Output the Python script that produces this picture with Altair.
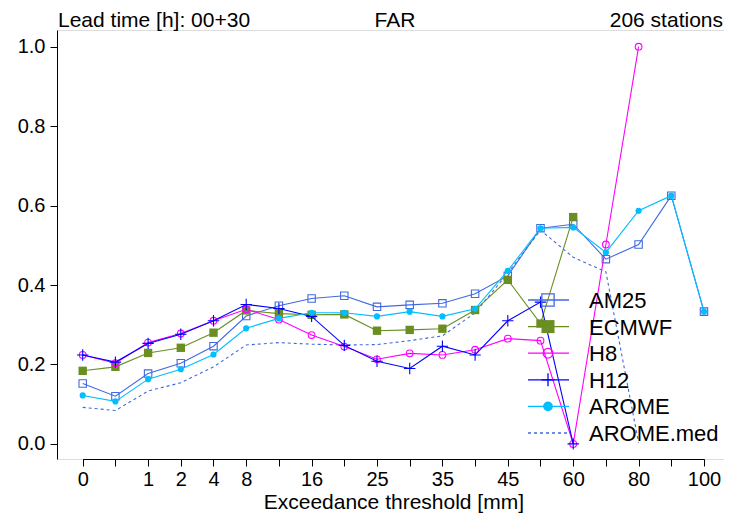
import altair as alt
import pandas as pd

thresholds = ["0", "0.5", "1", "2", "4", "8", "12", "16", "20", "25", "30", "35",
              "40", "45", "50", "60", "70", "80", "90", "100"]
shown_labels = ["0", "1", "2", "4", "8", "16", "25", "35", "45", "60", "80", "100"]

series_names = ["AM25", "ECMWF", "H8", "H12", "AROME", "AROME.med"]

am25 = [0.152, 0.120, 0.177, 0.203, 0.246, 0.322, 0.348, 0.366, 0.373, 0.345, 0.350, 0.354,
        0.378, 0.423, 0.543, 0.553, 0.465, 0.502, 0.625, 0.333]
ecmwf = [0.184, 0.194, 0.229, 0.242, 0.280, 0.336, 0.328, 0.325, 0.326, 0.285, 0.287, 0.290,
         0.337, 0.413, 0.303, 0.571, None, None, None, None]
h8 = [0.224, 0.203, 0.255, 0.278, 0.310, 0.339, 0.313, 0.274, 0.245, 0.213, 0.228, 0.224,
      0.237, 0.265, 0.260, 0.0, 0.502, 1.0, None, None]
h12 = [0.224, 0.206, 0.253, 0.276, 0.310, 0.351, 0.341, 0.321, 0.248, 0.208, 0.190, 0.246,
       0.224, 0.310, 0.357, 0.0, None, None, None, None]
arome = [0.122, 0.107, 0.163, 0.188, 0.225, 0.291, 0.316, 0.330, 0.330, 0.321, 0.333, 0.321,
         0.340, 0.436, 0.543, 0.545, 0.482, 0.587, 0.625, 0.333]
arome_med = [0.092, 0.084, 0.133, 0.154, 0.194, 0.249, 0.255, 0.251, 0.249, 0.250, 0.260, 0.272,
             0.330, 0.430, 0.538, 0.470, 0.433, 0.003, None, None]

values = {"AM25": am25, "ECMWF": ecmwf, "H8": h8, "H12": h12, "AROME": arome, "AROME.med": arome_med}

styles = {
    "AM25": dict(color="#4169E1", shape="square", filled=False, size=55, lsize=150, dash=None),
    "ECMWF": dict(color="#6B8E23", shape="square", filled=True, size=70, lsize=170, dash=None),
    "H8": dict(color="#FF00FF", shape="circle", filled=False, size=45, lsize=95, dash=None),
    "H12": dict(color="#0000FF", shape="M-1,0H1M0,-1V1", filled=False, size=130, lsize=170, dash=None),
    "AROME": dict(color="#00BFFF", shape="circle", filled=True, size=38, lsize=95, dash=None),
    "AROME.med": dict(color="#4169E1", shape=None, filled=False, size=0, lsize=0, dash=[3, 3]),
}

W, H = 667, 429
FONT = "Liberation Sans"

xscale = alt.Scale(type="point", domain=thresholds, range=[25.7, 647], padding=0)
yscale = alt.Scale(domain=[-0.038, 1.042], nice=False, zero=False)

hidden = [t for t in thresholds if t not in shown_labels]
label_expr = "indexof(" + str(hidden) + ", datum.value) >= 0 ? '' : datum.value"

xaxis = alt.Axis(title="Exceedance threshold [mm]", labelExpr=label_expr, grid=False,
                 labelAngle=0, labelFontSize=20, titleFontSize=21, labelFont=FONT, titleFont=FONT,
                 labelColor="black", titleColor="black", tickColor="black", domainColor="black",
                 tickSize=7, labelPadding=3, titlePadding=2, titleFontWeight="normal")
yaxis = alt.Axis(title=None, values=[0, 0.2, 0.4, 0.6, 0.8, 1.0], format=".1f", grid=False,
                 labelFontSize=20, labelFont=FONT, labelColor="black", tickColor="black",
                 domainColor="black", tickSize=7, labelPadding=5)

layers = []
draw_order = ["AROME.med", "AM25", "ECMWF", "H8", "H12", "AROME"]
for name in draw_order:
    st = styles[name]
    rows = [(t, v) for t, v in zip(thresholds, values[name]) if v is not None]
    df = pd.DataFrame(rows, columns=["thr", "val"])
    base = alt.Chart(df).encode(
        x=alt.X("thr:N", scale=xscale, axis=xaxis, sort=thresholds),
        y=alt.Y("val:Q", scale=yscale, axis=yaxis),
    )
    line_kw = dict(color=st["color"], strokeWidth=1.1)
    if st["dash"]:
        line_kw["strokeDash"] = st["dash"]
    layers.append(base.mark_line(**line_kw))
    if st["shape"]:
        pk = dict(shape=st["shape"], size=st["size"], filled=st["filled"], color=st["color"],
                  opacity=1, strokeWidth=1.1)
        layers.append(base.mark_point(**pk))

# legend (inside plot, bottom right)
leg_y0, leg_dy = 270, 26.6
for i, name in enumerate(series_names):
    st = styles[name]
    yy = leg_y0 + i * leg_dy
    one = alt.Chart(pd.DataFrame({"label": [name]}))
    rk = dict(color=st["color"], strokeWidth=1.3)
    if st["dash"]:
        rk["strokeDash"] = st["dash"]
    layers.append(one.mark_rule(**rk).encode(x=alt.value(471), x2=alt.value(512), y=alt.value(yy)))
    if st["shape"]:
        layers.append(one.mark_point(shape=st["shape"], size=st["lsize"], filled=st["filled"],
                                     color=st["color"], opacity=1, strokeWidth=1.3)
                      .encode(x=alt.value(491), y=alt.value(yy)))
    layers.append(one.mark_text(align="left", baseline="middle", fontSize=22, font=FONT, color="black")
                  .encode(text="label:N", x=alt.value(532), y=alt.value(yy + 1)))

# header texts
header = [("Lead time [h]: 00+30", "left", 1), ("FAR", "center", 338), ("206 stations", "right", 666)]
for txt, al, xx in header:
    layers.append(alt.Chart(pd.DataFrame({"t": [txt]})).mark_text(
        align=al, baseline="alphabetic", fontSize=21, font=FONT, color="black")
        .encode(text="t:N", x=alt.value(xx), y=alt.value(-3)))

chart = alt.layer(*layers).properties(
    width=W, height=H,
    autosize=alt.AutoSizeParams(type="none"),
    padding={"left": 49, "top": 22, "right": 0, "bottom": 56},
).configure_view(stroke="black", strokeWidth=1.3).configure(background="white")

chart.save("out.html", embed_options={"renderer": "svg", "actions": False})
